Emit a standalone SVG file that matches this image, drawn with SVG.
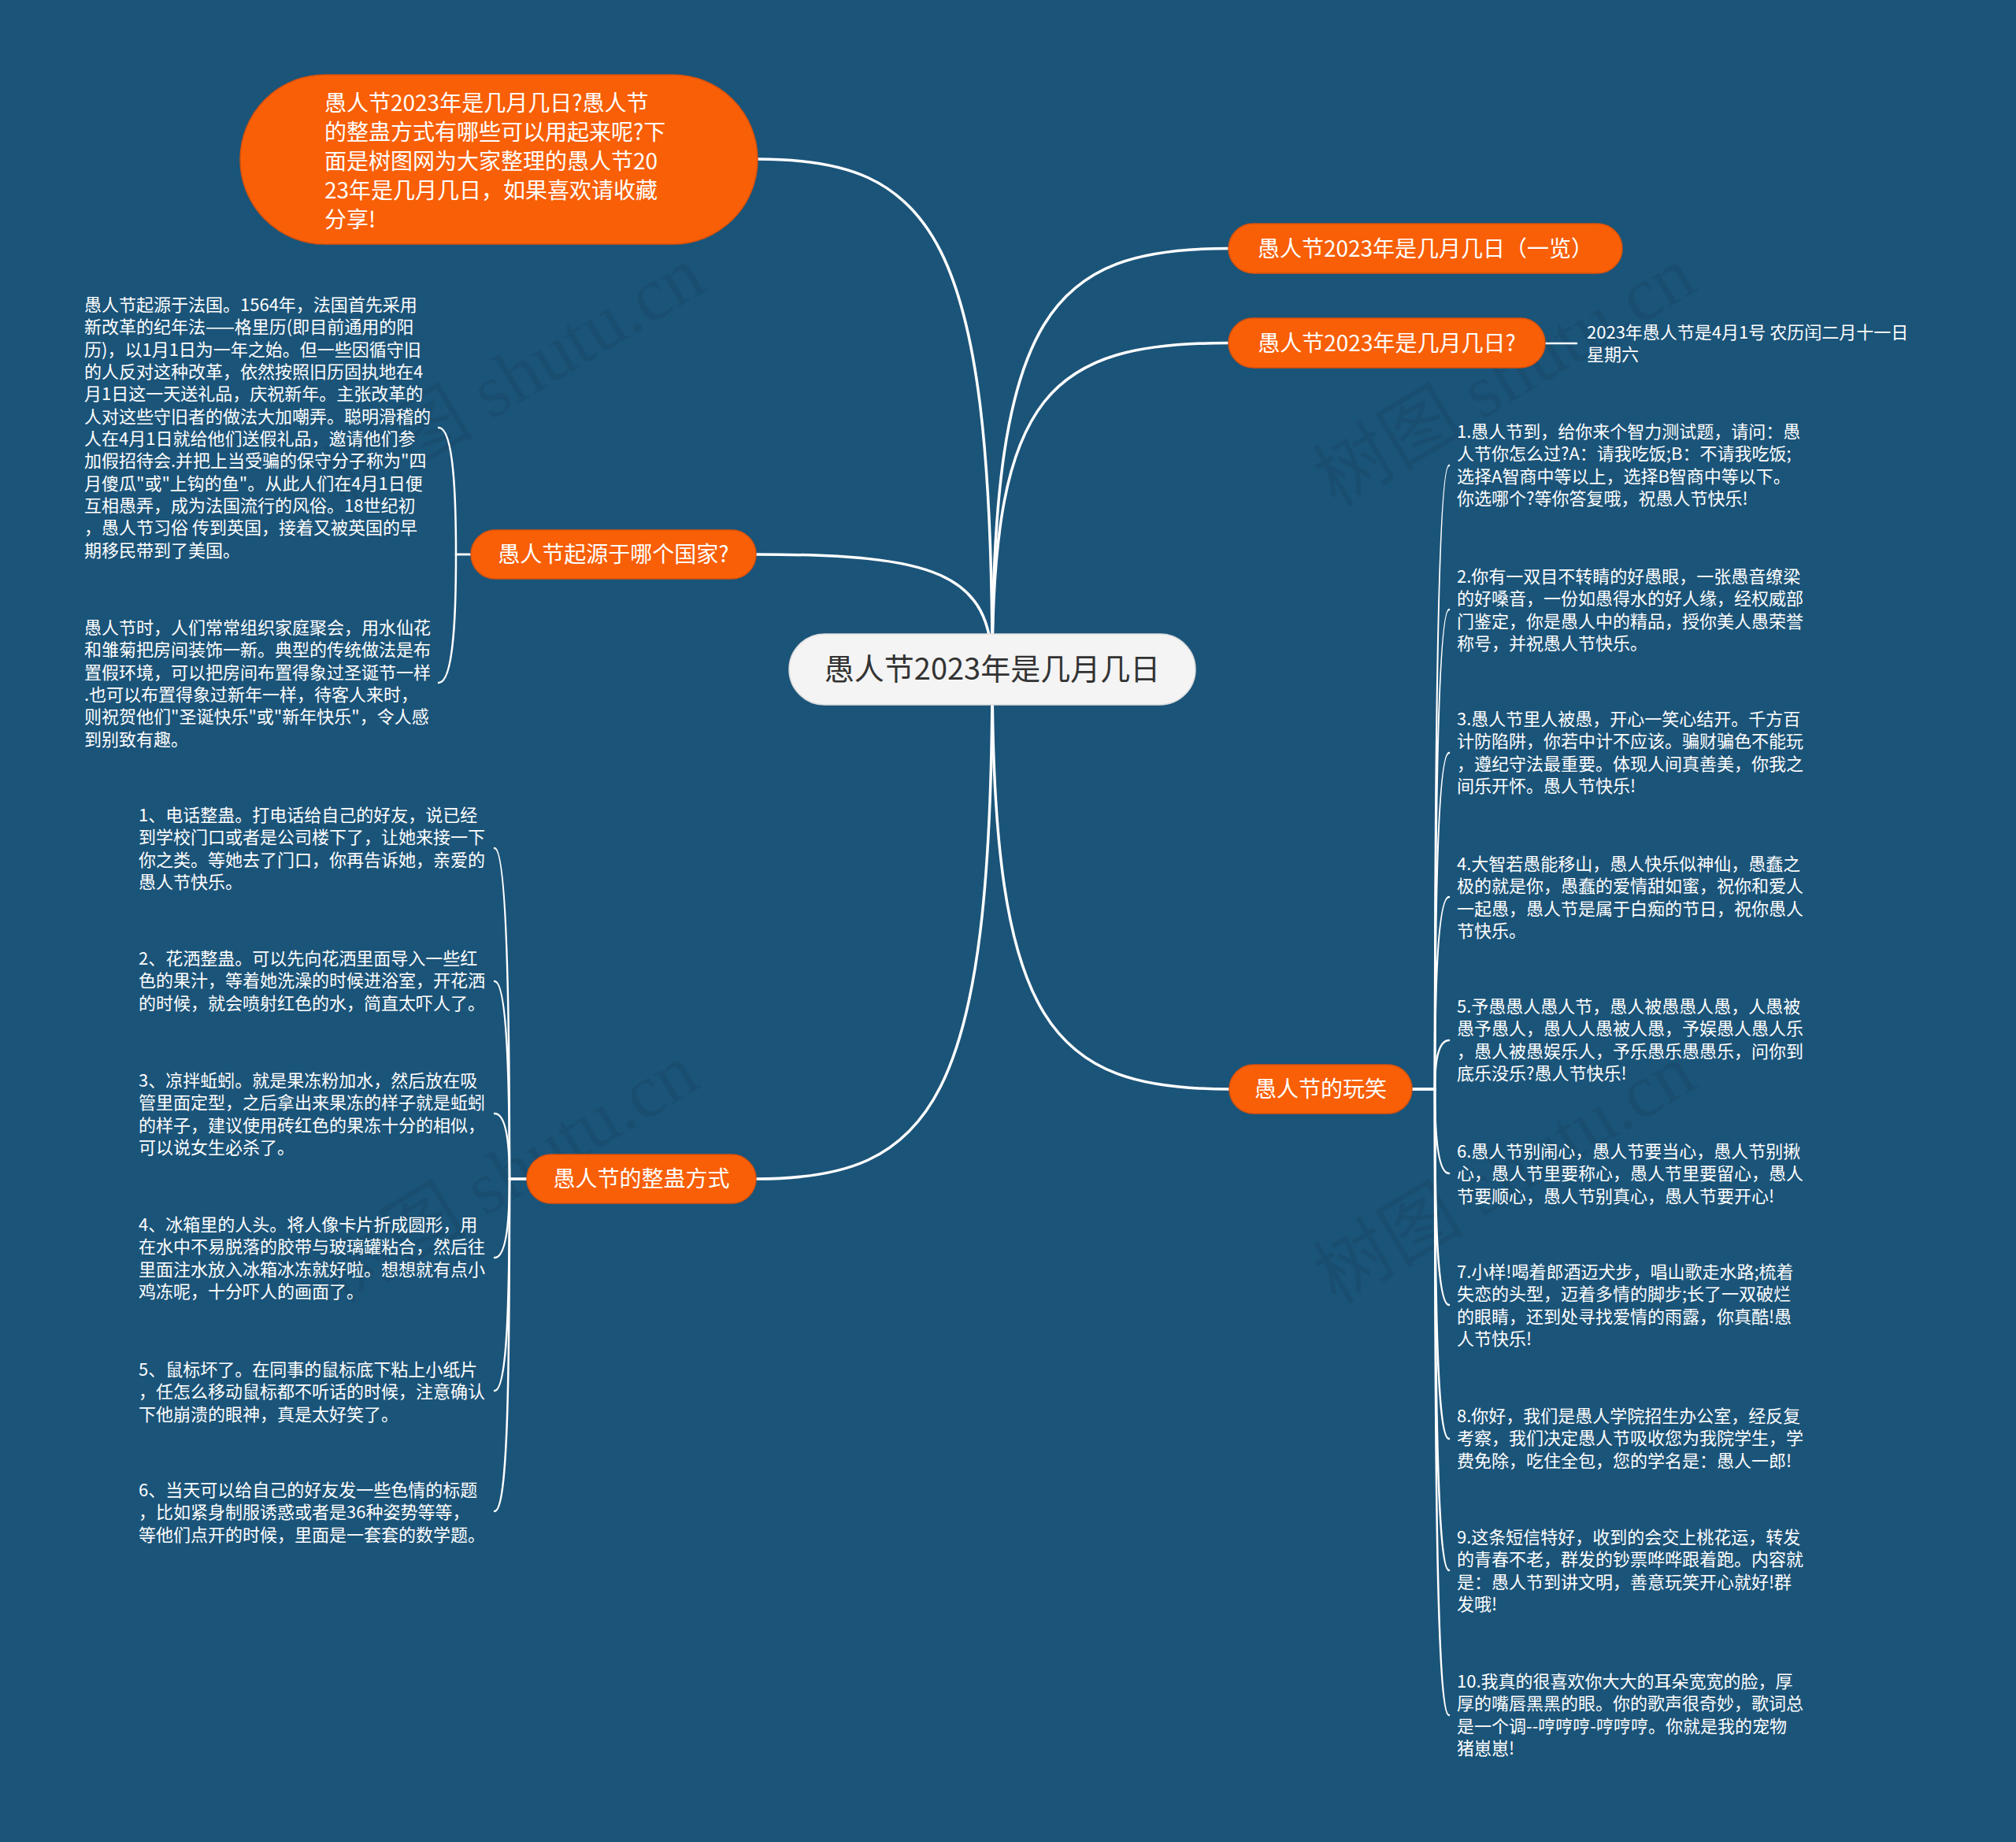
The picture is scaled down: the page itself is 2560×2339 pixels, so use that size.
<svg xmlns="http://www.w3.org/2000/svg" width="2560" height="2339" viewBox="0 0 2560 2339">
<defs>
<style>
.bg{fill:#1b5479}
.main{fill:none;stroke:#ffffff;stroke-width:3.5;stroke-linecap:round}
.sub{fill:none;stroke:#ffffff;stroke-width:2.5;stroke-linecap:round}
.orange{fill:#f85f07;stroke:#d9520a;stroke-width:1.5}
.center{fill:#f4f4f4;stroke:#dddddd;stroke-width:1.5}
.t28{font-family:"Noto Sans CJK SC","Noto Sans",sans-serif;font-size:28px;fill:#ffffff}
.t38{font-family:"Noto Sans CJK SC","Noto Sans",sans-serif;font-size:38px;fill:#333333}
.t22{font-family:"Noto Sans CJK SC","Noto Sans",sans-serif;font-size:22px;fill:#ffffff}
.wm{font-family:"Liberation Serif","Noto Sans CJK SC",serif;font-size:96px;fill:#000000;fill-opacity:0.07}
</style>
</defs>
<rect class="bg" x="0" y="0" width="2560" height="2339"/>

<g id="watermarks">
<text class="wm" x="669" y="506" text-anchor="middle" transform="rotate(-31 669 506)">树图 shutu.cn</text>
<text class="wm" x="1927" y="506" text-anchor="middle" transform="rotate(-31 1927 506)">树图 shutu.cn</text>
<text class="wm" x="661" y="1518" text-anchor="middle" transform="rotate(-31 661 1518)">树图 shutu.cn</text>
<text class="wm" x="1927" y="1518" text-anchor="middle" transform="rotate(-31 1927 1518)">树图 shutu.cn</text>
</g>

<g id="connectors">
<path class="main" d="M1260 850 C1260 299 1185 202 962 202"/>
<path class="main" d="M1260 850 C1260 396 1335 315.5 1560 315.5"/>
<path class="main" d="M1260 850 C1260 498 1335 435.5 1560 435.5"/>
<path class="main" d="M1260 850 C1260 726 1185 704 960 704"/>
<path class="main" d="M1260 850 C1260 1303 1335 1383 1561 1383"/>
<path class="main" d="M1260 850 C1260 1400 1185 1497 960 1497"/>
<path class="sub" d="M1962 436 L2002 436"/>
<path class="sub" d="M598 704 L579 704 C579 640 577 543 557 543"/>
<path class="sub" d="M598 704 L579 704 C579 770 577 867 557 867"/>
<path class="sub" d="M669 1497 L647 1497 C647 1329 645 1077 628 1077"/>
<path class="sub" d="M669 1497 L647 1497 C647 1396 645 1246 628 1246"/>
<path class="sub" d="M669 1497 L647 1497 C647 1464 645 1414 628 1414"/>
<path class="sub" d="M669 1497 L647 1497 C647 1537 645 1597 628 1597"/>
<path class="sub" d="M669 1497 L647 1497 C647 1639 645 1766 628 1766"/>
<path class="sub" d="M669 1497 L647 1497 C647 1750 645 1919 628 1919"/>
<path class="sub" d="M1793 1383 L1822 1383 C1822 1066 1824 591 1840 591"/>
<path class="sub" d="M1793 1383 L1822 1383 C1822 1139 1824 774 1840 774"/>
<path class="sub" d="M1793 1383 L1822 1383 C1822 1213 1824 956 1840 956"/>
<path class="sub" d="M1793 1383 L1822 1383 C1822 1286 1824 1139 1840 1139"/>
<path class="sub" d="M1793 1383 L1822 1383 C1822 1358 1824 1321 1840 1321"/>
<path class="sub" d="M1793 1383 L1822 1383 C1822 1425 1824 1490 1840 1490"/>
<path class="sub" d="M1793 1383 L1822 1383 C1822 1528 1824 1657 1840 1657"/>
<path class="sub" d="M1793 1383 L1822 1383 C1822 1630 1824 1827 1840 1827"/>
<path class="sub" d="M1793 1383 L1822 1383 C1822 1730 1824 1994 1840 1994"/>
<path class="sub" d="M1793 1383 L1822 1383 C1822 1840 1824 2178 1840 2178"/>
</g>

<g id="node-center">
<rect class="center" x="1002" y="805" width="516" height="90" rx="45"/>
<text class="t38" x="1260" y="863" text-anchor="middle">愚人节2023年是几月几日</text>
</g>

<g id="node-intro">
<rect class="orange" x="305" y="95" width="657" height="215" rx="107.5"/>
<text class="t28" x="412">
<tspan x="412" y="141">愚人节2023年是几月几日?愚人节</tspan>
<tspan x="412" y="178">的整蛊方式有哪些可以用起来呢?下</tspan>
<tspan x="412" y="215">面是树图网为大家整理的愚人节20</tspan>
<tspan x="412" y="252">23年是几月几日，如果喜欢请收藏</tspan>
<tspan x="412" y="289">分享!</tspan>
</text>
</g>

<g id="node-r1">
<rect class="orange" x="1560" y="284" width="500" height="63" rx="31.5"/>
<text class="t28" x="1810" y="325.5" text-anchor="middle">愚人节2023年是几月几日（一览）</text>
</g>

<g id="node-r2">
<rect class="orange" x="1560" y="404" width="402" height="63" rx="31.5"/>
<text class="t28" x="1761" y="446" text-anchor="middle">愚人节2023年是几月几日?</text>
</g>

<g id="leaf-r2">
<text class="t22"><tspan x="2015" y="430">2023年愚人节是4月1号 农历闰二月十一日</tspan><tspan x="2015" y="458">星期六</tspan></text>
</g>

<g id="node-origin">
<rect class="orange" x="598" y="673" width="362" height="62" rx="31"/>
<text class="t28" x="779" y="714" text-anchor="middle">愚人节起源于哪个国家?</text>
</g>

<g id="leaf-origin-1">
<text class="t22">
<tspan x="107" y="395">愚人节起源于法国。1564年，法国首先采用</tspan>
<tspan x="107" y="423.3">新改革的纪年法——格里历(即目前通用的阳</tspan>
<tspan x="107" y="451.7">历)，以1月1日为一年之始。但一些因循守旧</tspan>
<tspan x="107" y="480">的人反对这种改革，依然按照旧历固执地在4</tspan>
<tspan x="107" y="508.3">月1日这一天送礼品，庆祝新年。主张改革的</tspan>
<tspan x="107" y="536.7">人对这些守旧者的做法大加嘲弄。聪明滑稽的</tspan>
<tspan x="107" y="565">人在4月1日就给他们送假礼品，邀请他们参</tspan>
<tspan x="107" y="593.3">加假招待会.并把上当受骗的保守分子称为"四</tspan>
<tspan x="107" y="621.7">月傻瓜"或"上钩的鱼"。从此人们在4月1日便</tspan>
<tspan x="107" y="650">互相愚弄，成为法国流行的风俗。18世纪初</tspan>
<tspan x="107" y="678.3">，愚人节习俗 传到英国，接着又被英国的早</tspan>
<tspan x="107" y="706.7">期移民带到了美国。</tspan>
</text>
</g>

<g id="leaf-origin-2">
<text class="t22">
<tspan x="107" y="805">愚人节时，人们常常组织家庭聚会，用水仙花</tspan>
<tspan x="107" y="833.3">和雏菊把房间装饰一新。典型的传统做法是布</tspan>
<tspan x="107" y="861.7">置假环境，可以把房间布置得象过圣诞节一样</tspan>
<tspan x="107" y="890">.也可以布置得象过新年一样，待客人来时，</tspan>
<tspan x="107" y="918.3">则祝贺他们"圣诞快乐"或"新年快乐"，令人感</tspan>
<tspan x="107" y="946.7">到别致有趣。</tspan>
</text>
</g>

<g id="node-prank">
<rect class="orange" x="669" y="1466" width="291" height="62" rx="31"/>
<text class="t28" x="814.5" y="1507" text-anchor="middle">愚人节的整蛊方式</text>
</g>

<g id="leaf-prank-1">
<text class="t22">
<tspan x="176" y="1043">1、电话整蛊。打电话给自己的好友，说已经</tspan>
<tspan x="176" y="1071.3">到学校门口或者是公司楼下了，让她来接一下</tspan>
<tspan x="176" y="1099.7">你之类。等她去了门口，你再告诉她，亲爱的</tspan>
<tspan x="176" y="1128">愚人节快乐。</tspan>
</text>
</g>
<g id="leaf-prank-2">
<text class="t22">
<tspan x="176" y="1225">2、花洒整蛊。可以先向花洒里面导入一些红</tspan>
<tspan x="176" y="1253.3">色的果汁，等着她洗澡的时候进浴室，开花洒</tspan>
<tspan x="176" y="1281.7">的时候，就会喷射红色的水，简直太吓人了。</tspan>
</text>
</g>
<g id="leaf-prank-3">
<text class="t22">
<tspan x="176" y="1380">3、凉拌蚯蚓。就是果冻粉加水，然后放在吸</tspan>
<tspan x="176" y="1408.3">管里面定型，之后拿出来果冻的样子就是蚯蚓</tspan>
<tspan x="176" y="1436.7">的样子，建议使用砖红色的果冻十分的相似，</tspan>
<tspan x="176" y="1465">可以说女生必杀了。</tspan>
</text>
</g>
<g id="leaf-prank-4">
<text class="t22">
<tspan x="176" y="1563">4、冰箱里的人头。将人像卡片折成圆形，用</tspan>
<tspan x="176" y="1591.3">在水中不易脱落的胶带与玻璃罐粘合，然后往</tspan>
<tspan x="176" y="1619.7">里面注水放入冰箱冰冻就好啦。想想就有点小</tspan>
<tspan x="176" y="1648">鸡冻呢，十分吓人的画面了。</tspan>
</text>
</g>
<g id="leaf-prank-5">
<text class="t22">
<tspan x="176" y="1747">5、鼠标坏了。在同事的鼠标底下粘上小纸片</tspan>
<tspan x="176" y="1775.3">，任怎么移动鼠标都不听话的时候，注意确认</tspan>
<tspan x="176" y="1803.7">下他崩溃的眼神，真是太好笑了。</tspan>
</text>
</g>
<g id="leaf-prank-6">
<text class="t22">
<tspan x="176" y="1900">6、当天可以给自己的好友发一些色情的标题</tspan>
<tspan x="176" y="1928.3">，比如紧身制服诱惑或者是36种姿势等等，</tspan>
<tspan x="176" y="1956.7">等他们点开的时候，里面是一套套的数学题。</tspan>
</text>
</g>

<g id="node-joke">
<rect class="orange" x="1561" y="1352" width="232" height="62" rx="31"/>
<text class="t28" x="1677" y="1393" text-anchor="middle">愚人节的玩笑</text>
</g>

<g id="leaf-joke-1">
<text class="t22">
<tspan x="1850" y="556">1.愚人节到，给你来个智力测试题，请问：愚</tspan>
<tspan x="1850" y="584.3">人节你怎么过?A：请我吃饭;B：不请我吃饭;</tspan>
<tspan x="1850" y="612.7">选择A智商中等以上，选择B智商中等以下。</tspan>
<tspan x="1850" y="641">你选哪个?等你答复哦，祝愚人节快乐!</tspan>
</text>
</g>
<g id="leaf-joke-2">
<text class="t22">
<tspan x="1850" y="740">2.你有一双目不转睛的好愚眼，一张愚音缭梁</tspan>
<tspan x="1850" y="768.3">的好嗓音，一份如愚得水的好人缘，经权威部</tspan>
<tspan x="1850" y="796.7">门鉴定，你是愚人中的精品，授你美人愚荣誉</tspan>
<tspan x="1850" y="825">称号，并祝愚人节快乐。</tspan>
</text>
</g>
<g id="leaf-joke-3">
<text class="t22">
<tspan x="1850" y="921">3.愚人节里人被愚，开心一笑心结开。千方百</tspan>
<tspan x="1850" y="949.3">计防陷阱，你若中计不应该。骗财骗色不能玩</tspan>
<tspan x="1850" y="977.7">，遵纪守法最重要。体现人间真善美，你我之</tspan>
<tspan x="1850" y="1006">间乐开怀。愚人节快乐!</tspan>
</text>
</g>
<g id="leaf-joke-4">
<text class="t22">
<tspan x="1850" y="1105">4.大智若愚能移山，愚人快乐似神仙，愚蠢之</tspan>
<tspan x="1850" y="1133.3">极的就是你，愚蠢的爱情甜如蜜，祝你和爱人</tspan>
<tspan x="1850" y="1161.7">一起愚，愚人节是属于白痴的节日，祝你愚人</tspan>
<tspan x="1850" y="1190">节快乐。</tspan>
</text>
</g>
<g id="leaf-joke-5">
<text class="t22">
<tspan x="1850" y="1286">5.予愚愚人愚人节，愚人被愚愚人愚，人愚被</tspan>
<tspan x="1850" y="1314.3">愚予愚人，愚人人愚被人愚，予娱愚人愚人乐</tspan>
<tspan x="1850" y="1342.7">，愚人被愚娱乐人，予乐愚乐愚愚乐，问你到</tspan>
<tspan x="1850" y="1371">底乐没乐?愚人节快乐!</tspan>
</text>
</g>
<g id="leaf-joke-6">
<text class="t22">
<tspan x="1850" y="1470">6.愚人节别闹心，愚人节要当心，愚人节别揪</tspan>
<tspan x="1850" y="1498.3">心，愚人节里要称心，愚人节里要留心，愚人</tspan>
<tspan x="1850" y="1526.7">节要顺心，愚人节别真心，愚人节要开心!</tspan>
</text>
</g>
<g id="leaf-joke-7">
<text class="t22">
<tspan x="1850" y="1623">7.小样!喝着郎酒迈犬步，唱山歌走水路;梳着</tspan>
<tspan x="1850" y="1651.3">失恋的头型，迈着多情的脚步;长了一双破烂</tspan>
<tspan x="1850" y="1679.7">的眼睛，还到处寻找爱情的雨露，你真酷!愚</tspan>
<tspan x="1850" y="1708">人节快乐!</tspan>
</text>
</g>
<g id="leaf-joke-8">
<text class="t22">
<tspan x="1850" y="1806">8.你好，我们是愚人学院招生办公室，经反复</tspan>
<tspan x="1850" y="1834.3">考察，我们决定愚人节吸收您为我院学生，学</tspan>
<tspan x="1850" y="1862.7">费免除，吃住全包，您的学名是：愚人一郎!</tspan>
</text>
</g>
<g id="leaf-joke-9">
<text class="t22">
<tspan x="1850" y="1960">9.这条短信特好，收到的会交上桃花运，转发</tspan>
<tspan x="1850" y="1988.3">的青春不老，群发的钞票哗哗跟着跑。内容就</tspan>
<tspan x="1850" y="2016.7">是：愚人节到讲文明，善意玩笑开心就好!群</tspan>
<tspan x="1850" y="2045">发哦!</tspan>
</text>
</g>
<g id="leaf-joke-10">
<text class="t22">
<tspan x="1850" y="2143">10.我真的很喜欢你大大的耳朵宽宽的脸，厚</tspan>
<tspan x="1850" y="2171.3">厚的嘴唇黑黑的眼。你的歌声很奇妙，歌词总</tspan>
<tspan x="1850" y="2199.7">是一个调--哼哼哼-哼哼哼。你就是我的宠物</tspan>
<tspan x="1850" y="2228">猪崽崽!</tspan>
</text>
</g>
</svg>
